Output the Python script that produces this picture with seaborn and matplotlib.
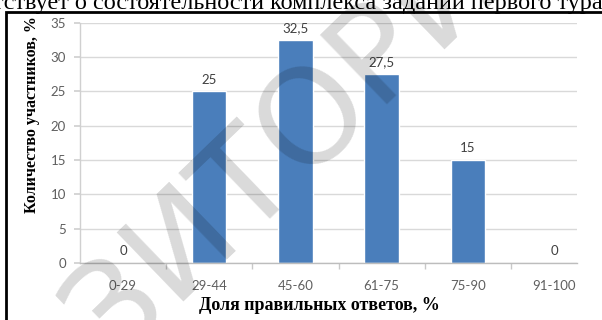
import math
import matplotlib
matplotlib.use("Agg")
import matplotlib.pyplot as plt
import seaborn as sns
import pandas as pd
from matplotlib.patches import Rectangle
from matplotlib.font_manager import FontProperties

categories = ["0-29", "29-44", "45-60", "61-75", "75-90", "91-100"]
values = [0, 25, 32.5, 27.5, 15, 0]
value_labels = ["0", "25", "32,5", "27,5", "15", "0"]
y_ticks = [0, 5, 10, 15, 20, 25, 30, 35]
x_title = "Доля правильных ответов, %"
y_title = "Количество участников, %"
top_text = "тствует о состоятельности комплекса заданий первого тура."
watermark = "РЕПОЗИТОРИЙ"

sns.set_theme(style="white")
plt.rcParams["font.family"] = ["Lato", "DejaVu Sans"]

W, H = 602, 320
fig = plt.figure(figsize=(W / 100, H / 100), dpi=100)
fig.patch.set_facecolor("white")

def fx(px):
    return px / W

def fy(py):
    return 1 - py / H

ax_left, ax_right, ax_top, ax_bottom = 80, 577, 22.7, 263
ax = fig.add_axes([fx(ax_left), fy(ax_bottom), fx(ax_right - ax_left), (ax_bottom - ax_top) / H])

df = pd.DataFrame({"cat": categories, "val": values})
sns.barplot(data=df, x="cat", y="val", color="#4a7ebb", saturation=1, width=0.4, ax=ax)

ax.set_ylim(0, 35)
ax.set_xlim(-0.5, 5.5 - (597 - 577) / 86)
ax.set_yticks(y_ticks)
ax.set_yticklabels([str(t) for t in y_ticks])
ax.set_axisbelow(True)
ax.yaxis.grid(True, color="#d9d9d9", linewidth=1)
ax.xaxis.grid(False)
for s in ["top", "right"]:
    ax.spines[s].set_visible(False)
ax.spines["left"].set_color("#d0d0d0")
ax.spines["bottom"].set_color("#bdbdbd")
ax.spines["left"].set_linewidth(1)
ax.spines["bottom"].set_linewidth(1)

ax.tick_params(axis="y", length=4, color="#d0d0d0", labelsize=9.5, labelcolor="#5f5f5f", pad=6, left=True)
ax.tick_params(axis="x", which="major", length=0, labelsize=9.5, labelcolor="#5f5f5f", pad=12)
ax.set_xticks([i + 0.5 for i in range(len(categories) - 1)], minor=True)
ax.tick_params(axis="x", which="minor", length=4, color="#c8c8c8", bottom=True, direction="out")
ax.set_xlabel("")
ax.set_ylabel("")

for i, (v, lab) in enumerate(zip(values, value_labels)):
    ax.annotate(lab, (i, v), xytext=(0, 4), textcoords="offset points",
                ha="center", va="bottom", fontsize=9.5, color="#404040")

fig.text(fx(32), fy(115), y_title, rotation=90, ha="center", va="center",
         fontsize=11.5, fontweight="bold", family=["Liberation Serif"], color="black")
fig.text(fx(319), fy(305), x_title, ha="center", va="center",
         fontsize=13, fontweight="bold", family=["Liberation Serif"], color="black")

fig.text(fx(-7), fy(9), top_text, ha="left", va="baseline",
         fontsize=17.5, family=["Liberation Serif"], color="black")

fig.patches.append(Rectangle((fx(6), fy(330)), fx(700), (330 - 12) / H, transform=fig.transFigure,
                             fill=False, edgecolor="black", linewidth=2, clip_on=False))

# watermark: place so that the letter "И" (index 5) is centred near (173, 232) px
wm_size = 95
wm_angle = 44
prop = FontProperties(family="DejaVu Sans", size=wm_size)
renderer = fig.canvas.get_renderer()
w_pre, _, _ = renderer.get_text_width_height_descent(watermark[:5], prop, ismath=False)
w_pre2, _, _ = renderer.get_text_width_height_descent(watermark[:6], prop, ismath=False)
cap = 0.73 * wm_size * 100 / 72
th = math.radians(wm_angle)
cx, cy = 173, 232
bx = cx + math.sin(th) * cap / 2
by = cy + math.cos(th) * cap / 2
along = (w_pre + w_pre2) / 2
sx = bx - math.cos(th) * along
sy = by + math.sin(th) * along
fig.text(fx(sx), fy(sy), watermark, rotation=wm_angle, rotation_mode="anchor",
         ha="left", va="baseline", fontproperties=prop, color="black", alpha=0.15, zorder=10)

fig.savefig("out.png", dpi=100)
